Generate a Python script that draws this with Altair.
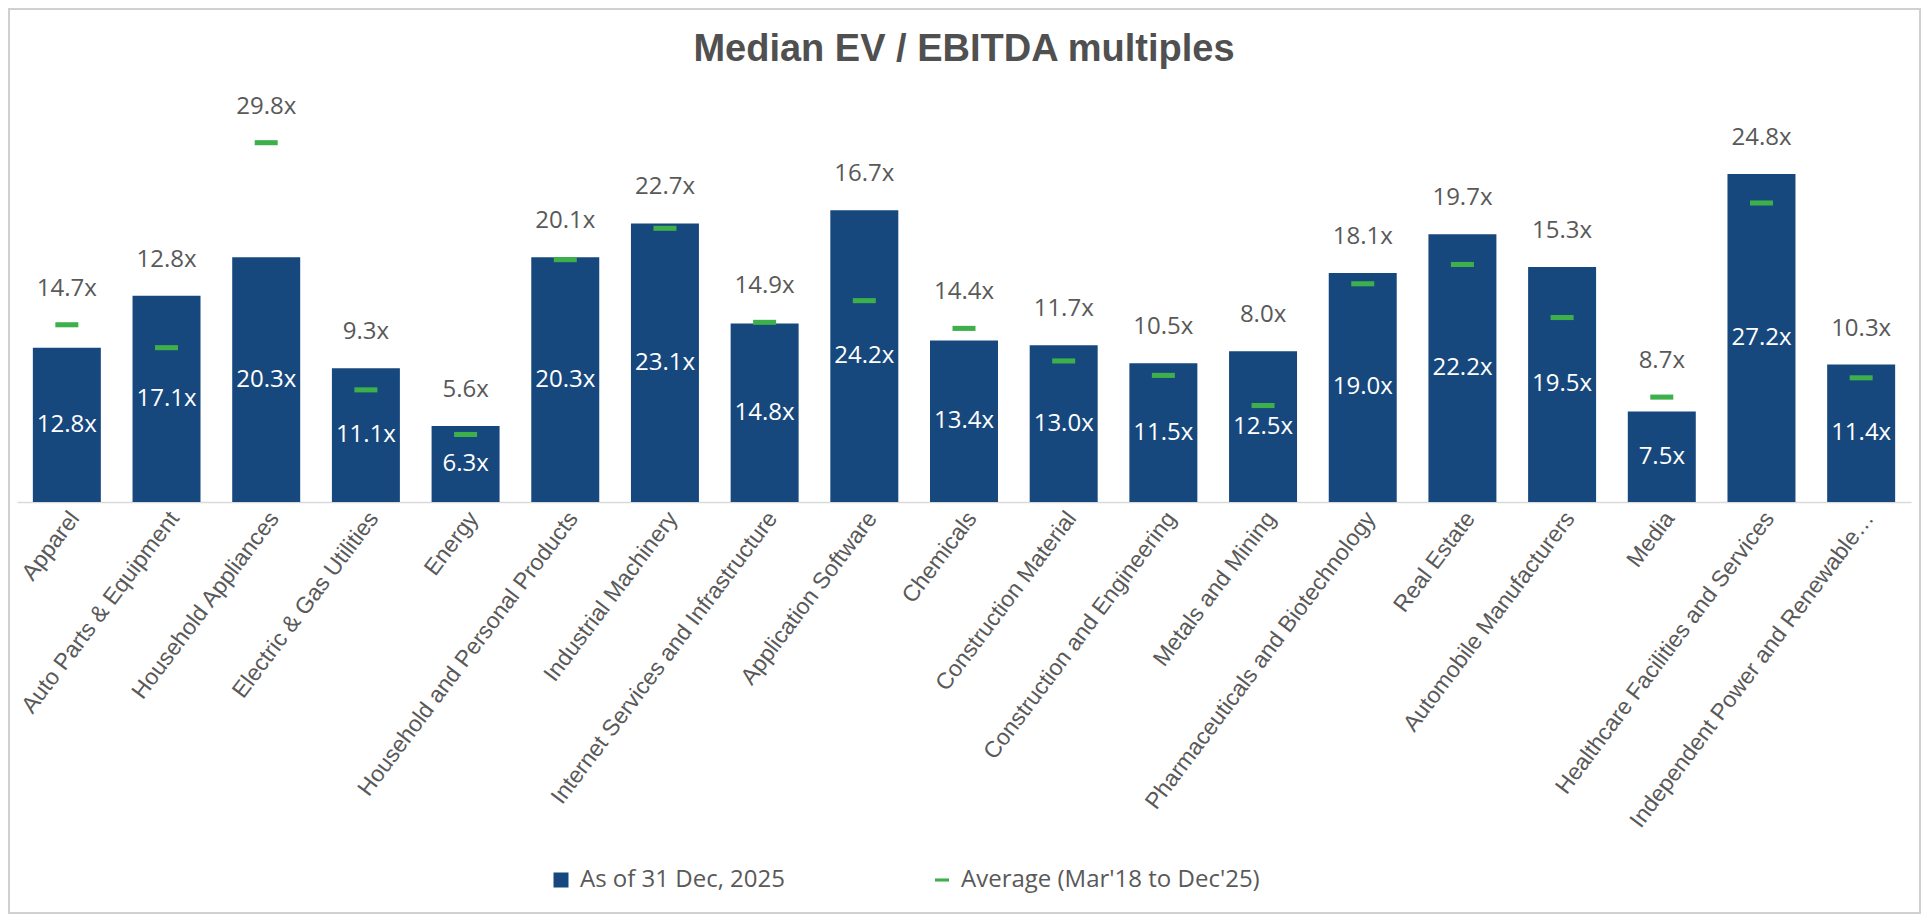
import altair as alt
import pandas as pd

title_text = "Median EV / EBITDA multiples"
series_current = "As of 31 Dec, 2025"
series_average = "Average (Mar'18 to Dec'25)"

categories = [
    "Apparel", "Auto Parts & Equipment", "Household Appliances", "Electric & Gas Utilities",
    "Energy", "Household and Personal Products", "Industrial Machinery",
    "Internet Services and Infrastructure", "Application Software", "Chemicals",
    "Construction Material", "Construction and Engineering", "Metals and Mining",
    "Pharmaceuticals and Biotechnology", "Real Estate", "Automobile Manufacturers", "Media",
    "Healthcare Facilities and Services", "Independent Power and Renewable\u2026",
]
current = [12.8, 17.1, 20.3, 11.1, 6.3, 20.3, 23.1, 14.8, 24.2, 13.4, 13.0, 11.5, 12.5,
           19.0, 22.2, 19.5, 7.5, 27.2, 11.4]
average = [14.7, 12.8, 29.8, 9.3, 5.6, 20.1, 22.7, 14.9, 16.7, 14.4, 11.7, 10.5, 8.0,
           18.1, 19.7, 15.3, 8.7, 24.8, 10.3]

BLUE = "#17487D"
GREEN = "#3DB04B"
GRAY = "#595959"
DASH = "M-1,-0.22H1V0.22H-1Z"
LABEL_FONT = "Open Sans"

df = pd.DataFrame({"category": categories, "current": current, "average": average})
df["s_cur"] = series_current
df["s_avg"] = series_average

W, H = 1894, 422
yscale = alt.Scale(domain=[0, 35], nice=False, zero=True)

x = alt.X(
    "category:N", sort=categories,
    scale=alt.Scale(paddingInner=0.318, paddingOuter=0.159),
    axis=alt.Axis(
        title=None, labelAngle=-53, labelAlign="right", labelBaseline="middle",
        labelFont="Liberation Sans", labelFontSize=23, labelColor=GRAY,
        labelPadding=12, labelOffset=8, labelLimit=1000, ticks=False, tickSize=0,
        domainColor="#D9D9D9", domainWidth=1.5,
    ),
)

base = alt.Chart(df).encode(x=x)

bars = base.mark_bar().encode(
    y=alt.Y("current:Q", scale=yscale, axis=None),
    color=alt.Color(
        "s_cur:N", scale=alt.Scale(range=[BLUE]),
        legend=alt.Legend(
            title=None, orient="none", legendX=532, legendY=788, padding=0,
            symbolType="square", symbolSize=225, symbolStrokeWidth=0,
            labelFont=LABEL_FONT, labelFontSize=24, labelColor=GRAY, labelOffset=7,
            labelLimit=600,
        ),
    ),
)

points = base.mark_point(filled=True, opacity=1, size=529, strokeWidth=0, color=GREEN).encode(
    y=alt.Y("average:Q", scale=yscale, axis=None),
    shape=alt.Shape(
        "s_avg:N", scale=alt.Scale(range=[DASH]),
        legend=alt.Legend(
            title=None, orient="none", legendX=913, legendY=788, padding=0,
            symbolSize=196, symbolFillColor=GREEN, symbolStrokeWidth=0, symbolOpacity=1,
            labelFont=LABEL_FONT, labelFontSize=24, labelColor=GRAY, labelOffset=7,
            labelLimit=600,
        ),
    ),
)

inner = base.transform_calculate(
    mid="datum.current / 2",
    lab="format(datum.current, '.1f') + 'x'",
).mark_text(color="white", font=LABEL_FONT, fontSize=24, baseline="middle").encode(
    y=alt.Y("mid:Q", scale=yscale, axis=None),
    text="lab:N",
)

avg_labels = base.transform_calculate(
    top="max(datum.current, datum.average)",
    lab="format(datum.average, '.1f') + 'x'",
).mark_text(color=GRAY, font=LABEL_FONT, fontSize=24, baseline="middle", dy=-36).encode(
    y=alt.Y("top:Q", scale=yscale, axis=None),
    text="lab:N",
)

frame = alt.Chart(pd.DataFrame({"a": [0]})).mark_rect(
    fillOpacity=0, stroke="#D0D0D0", strokeWidth=2
).encode(
    x=alt.value(-8), x2=alt.value(1903), y=alt.value(-71), y2=alt.value(833)
)

chart = alt.layer(frame, bars, points, inner, avg_labels).resolve_scale(
    color="independent", shape="independent"
).properties(
    width=W, height=H,
    autosize=alt.AutoSizeParams(type="none"),
    padding={"left": 9, "top": 72, "right": 10, "bottom": 412},
    background="white",
    title=alt.TitleParams(
        title_text, anchor="middle", frame="group", offset=-91, baseline="alphabetic",
        font="Liberation Sans", fontSize=38, fontWeight="bold", color="#505050",
    ),
).configure_view(stroke=None)

chart.save("out.html", embed_options={"renderer": "svg", "actions": False})
